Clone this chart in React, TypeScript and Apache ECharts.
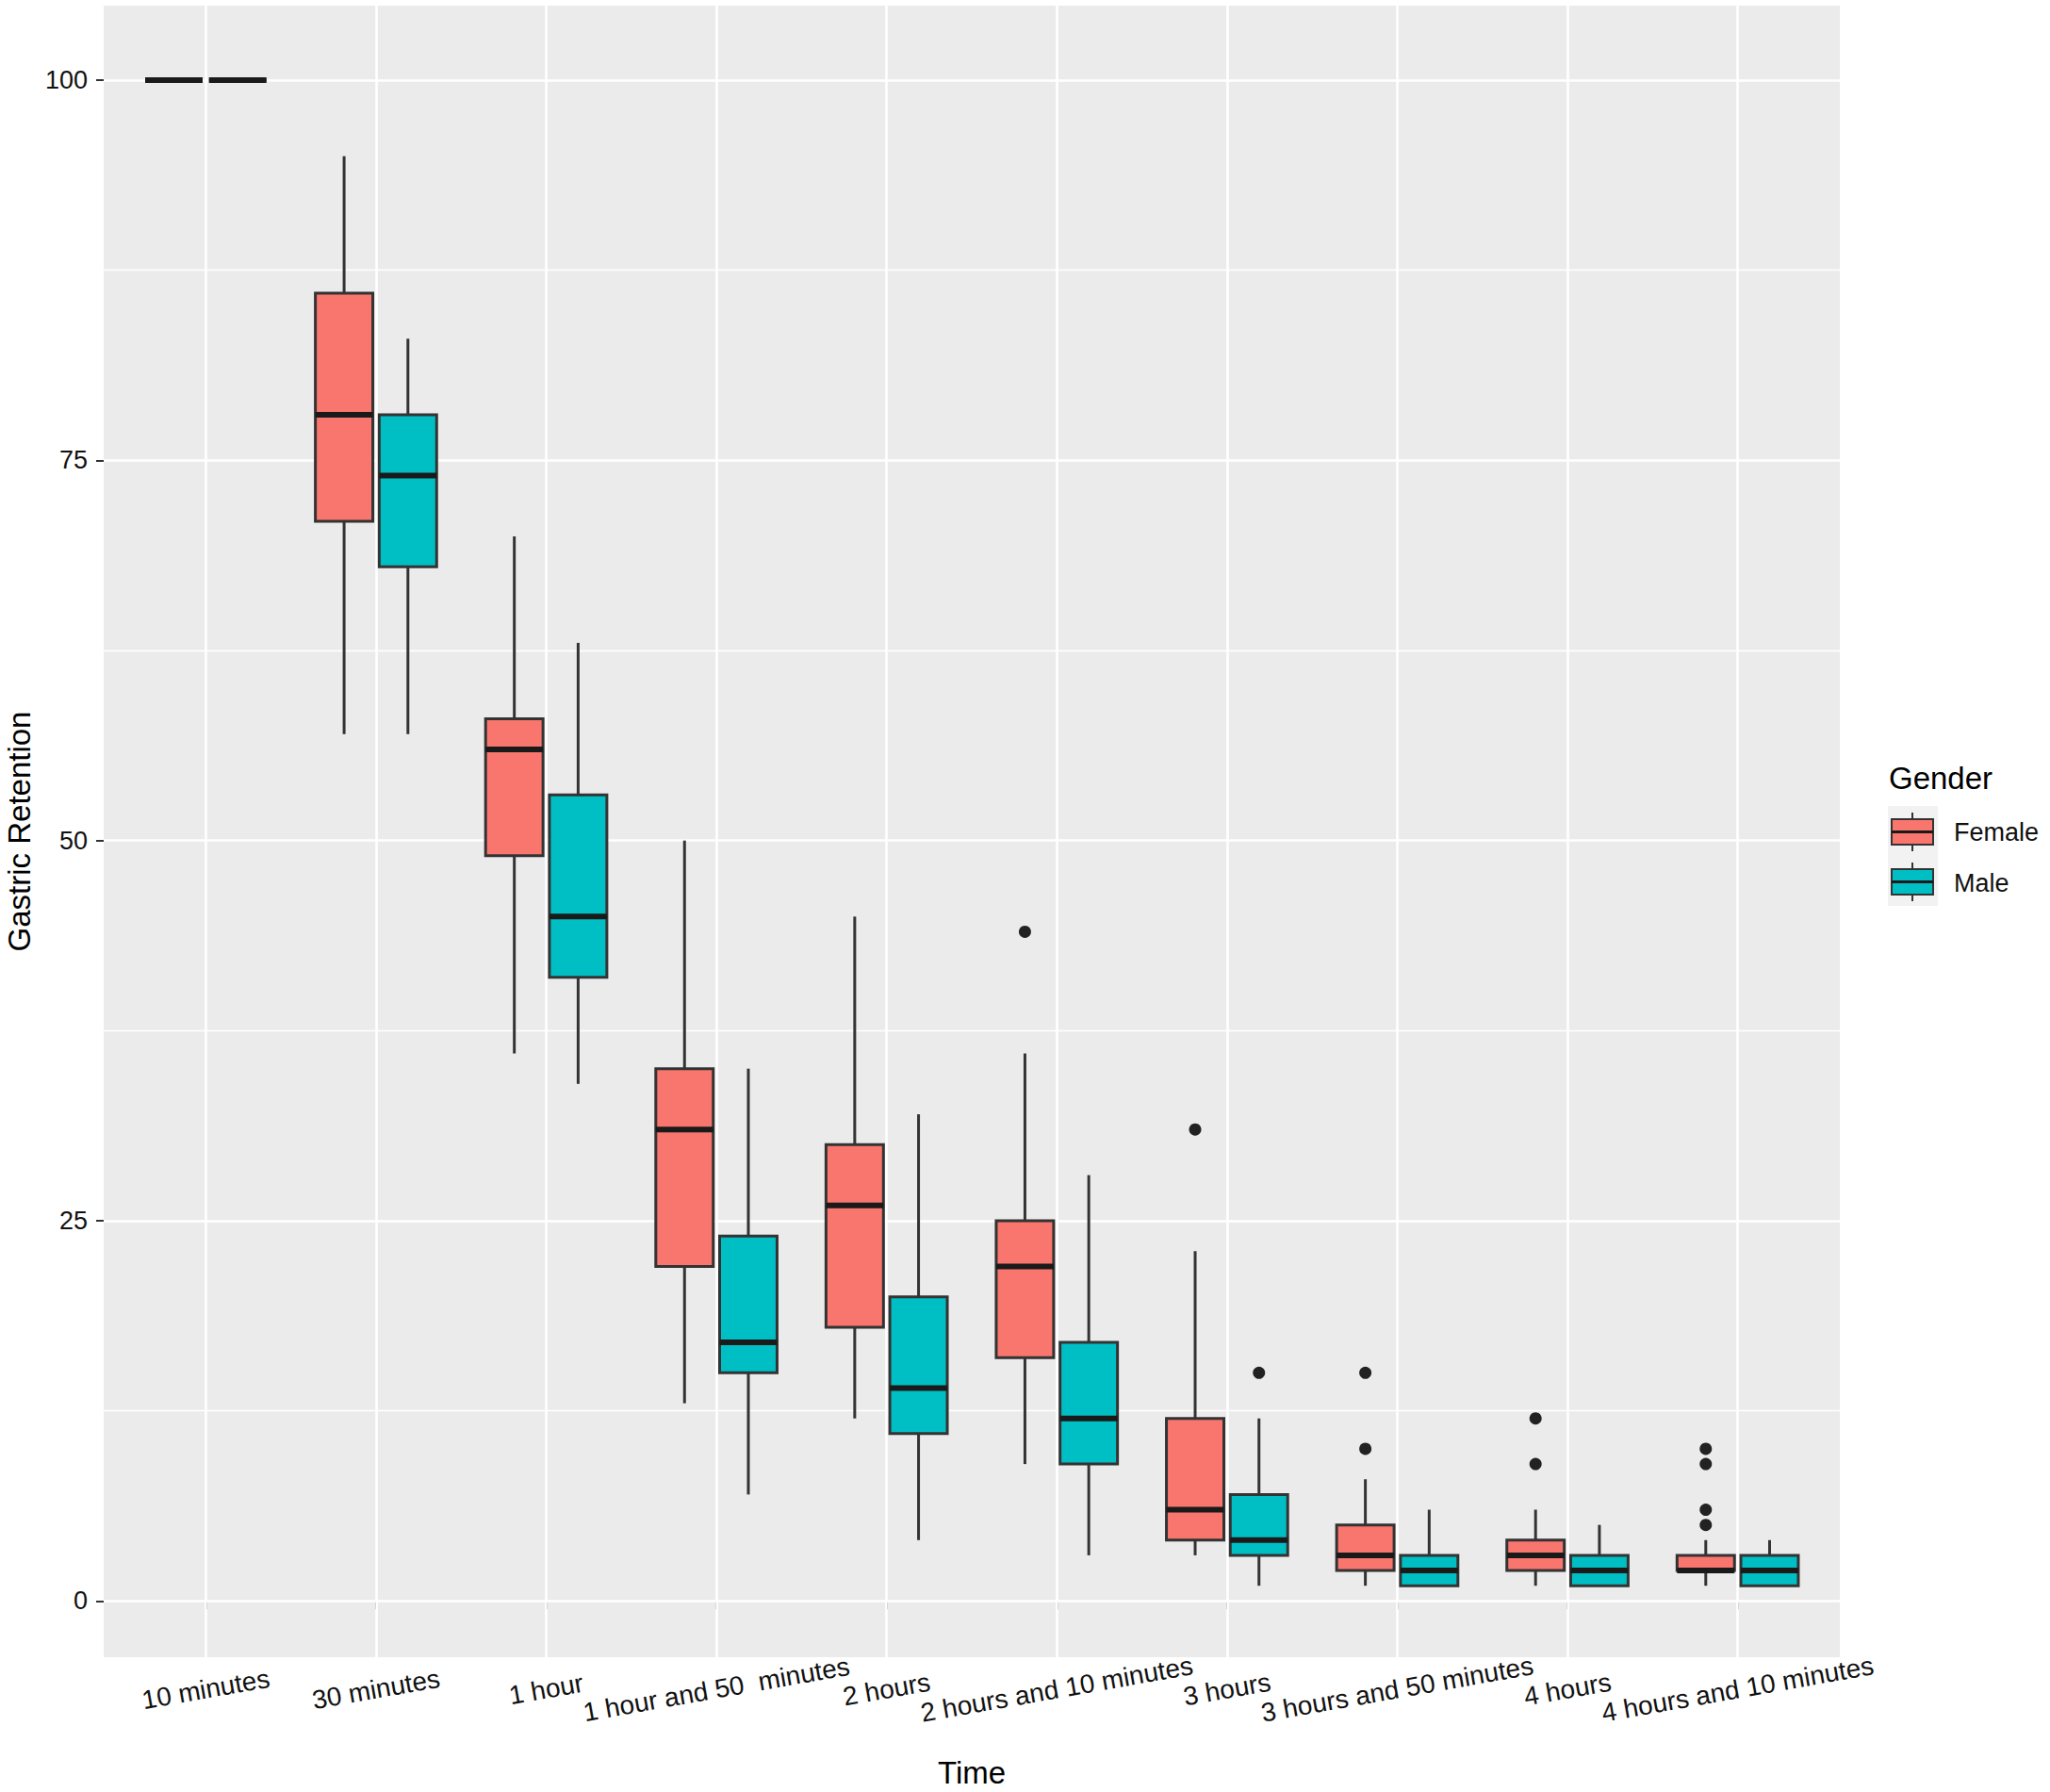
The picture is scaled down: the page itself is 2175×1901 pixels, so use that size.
import { useEffect, useRef } from "react";
import * as echarts from "echarts";

const FONT = "'Liberation Sans', Arial, sans-serif";
const FEMALE_COLOR = "#F8766D";
const MALE_COLOR = "#00BFC4";
const EDGE = "#333333";

const CATEGORIES = [
  "10 minutes",
  "30 minutes",
  "1 hour",
  "1 hour and 50  minutes",
  "2 hours",
  "2 hours and 10 minutes",
  "3 hours",
  "3 hours and 50 minutes",
  "4 hours",
  "4 hours and 10 minutes",
];
const CAT_POS = CATEGORIES.map((_, i) => i + 1);

// [time index, lower whisker, Q1, median, Q3, upper whisker]
const FEMALE_BOXES = [
  [1, 100, 100, 100, 100, 100],
  [2, 57, 71, 78, 86, 95],
  [3, 36, 49, 56, 58, 70],
  [4, 13, 22, 31, 35, 50],
  [5, 12, 18, 26, 30, 45],
  [6, 9, 16, 22, 25, 36],
  [7, 3, 4, 6, 12, 23],
  [8, 1, 2, 3, 5, 8],
  [9, 1, 2, 3, 4, 6],
  [10, 1, 2, 2, 3, 4],
];
const MALE_BOXES = [
  [1, 100, 100, 100, 100, 100],
  [2, 57, 68, 74, 78, 83],
  [3, 34, 41, 45, 53, 63],
  [4, 7, 15, 17, 24, 35],
  [5, 4, 11, 14, 20, 32],
  [6, 3, 9, 12, 17, 28],
  [7, 1, 3, 4, 7, 12],
  [8, 1, 1, 2, 3, 6],
  [9, 1, 1, 2, 3, 5],
  [10, 1, 1, 2, 3, 4],
];
// [time index, value]
const FEMALE_OUTLIERS = [
  [6, 44], [7, 31], [8, 15], [8, 10], [9, 12], [9, 9],
  [10, 10], [10, 9], [10, 6], [10, 5],
];
const MALE_OUTLIERS = [[7, 15]];

const Y_TICKS = [0, 25, 50, 75, 100];
const Y_MINOR = [12.5, 37.5, 62.5, 87.5];

// ggplot dodge: pair width 0.75, each box 0.375 * 0.9
const DODGE = 0.1875;
const BOX_W = 0.3375;

const renderBox = (offset: number, fill: string) => (_params: any, api: any) => {
  const x = api.value(0) + offset;
  const cx = api.coord([x, 0])[0];
  const y = (i: number) => api.coord([x, api.value(i)])[1];
  const [lo, q1, med, q3, hi] = [y(1), y(2), y(3), y(4), y(5)];
  const w = api.size([BOX_W, 0])[0];
  const line = { stroke: EDGE, lineWidth: 3 };
  return {
    type: "group",
    children: [
      { type: "line", shape: { x1: cx, y1: hi, x2: cx, y2: q3 }, style: line },
      { type: "line", shape: { x1: cx, y1: q1, x2: cx, y2: lo }, style: line },
      {
        type: "rect",
        shape: { x: cx - w / 2, y: q3, width: w, height: q1 - q3 },
        style: { fill, stroke: EDGE, lineWidth: 3 },
      },
      {
        type: "line",
        shape: { x1: cx - w / 2, y1: med, x2: cx + w / 2, y2: med },
        style: { stroke: "#1a1a1a", lineWidth: 6 },
      },
    ],
  };
};

function legendKey(y: number, fill: string) {
  // glyph inside a 53px key cell starting at y
  return [
    { type: "line", shape: { x1: 2029, y1: y + 7, x2: 2029, y2: y + 48 }, style: { stroke: EDGE, lineWidth: 2 } },
    { type: "rect", shape: { x: 2007, y: y + 14, width: 44, height: 27 }, style: { fill, stroke: EDGE, lineWidth: 2 } },
    { type: "line", shape: { x1: 2007, y1: y + 27.5, x2: 2051, y2: y + 27.5 }, style: { stroke: "#1a1a1a", lineWidth: 3 } },
  ];
}

export default function App() {
  const ref = useRef<HTMLDivElement>(null);

  useEffect(() => {
    document.body.style.margin = "0";
    if (!ref.current) return;
    const chart = echarts.init(ref.current, null, { renderer: "svg" });

    const labelStyle = { fontSize: 27, color: "#111", fontFamily: FONT };
    const titleStyle = { fontSize: 33, color: "#000", fontFamily: FONT, verticalAlign: "middle" };
    const tickStyle = { color: EDGE, width: 2 };

    chart.setOption({
      animation: false,
      backgroundColor: "#ffffff",
      textStyle: { fontFamily: FONT },
      grid: {
        left: 110,
        top: 6,
        width: 1842,
        height: 1752,
        show: true,
        backgroundColor: "#EBEBEB",
        borderWidth: 0,
        containLabel: false,
        outerBoundsMode: "none",
      },
      xAxis: {
        type: "value",
        min: 0.4,
        max: 10.6,
        name: "Time",
        nameLocation: "middle",
        nameGap: 122,
        nameTextStyle: titleStyle,
        axisLine: { show: false },
        axisTick: { show: true, length: 9, customValues: CAT_POS, lineStyle: tickStyle },
        axisLabel: {
          ...labelStyle,
          fontSize: 28,
          customValues: CAT_POS,
          formatter: (v: number) => CATEGORIES[Math.round(v) - 1] ?? "",
          rotate: 10,
          align: "center",
          verticalAlign: "middle",
          margin: 34,
        },
        splitLine: { show: false },
      },
      yAxis: {
        type: "value",
        min: -3.7,
        max: 104.9,
        name: "Gastric Retention",
        nameLocation: "middle",
        nameGap: 89,
        nameTextStyle: titleStyle,
        axisLine: { show: false },
        axisTick: { show: true, length: 8, customValues: Y_TICKS, lineStyle: tickStyle },
        axisLabel: { ...labelStyle, customValues: Y_TICKS, margin: 17 },
        splitLine: { show: false },
      },
      series: [
        {
          type: "line",
          data: [],
          silent: true,
          z: 1,
          markLine: {
            silent: true,
            symbol: "none",
            z: 1,
            label: { show: false },
            lineStyle: { color: "#ffffff", type: "solid", width: 2.6 },
            data: [
              ...Y_TICKS.map((v) => ({ yAxis: v })),
              ...Y_MINOR.map((v) => ({ yAxis: v, lineStyle: { color: "#ffffff", type: "solid", width: 1.4 } })),
              ...CAT_POS.map((c) => ({ xAxis: c })),
            ],
          },
        },
        {
          type: "custom",
          name: "Female",
          data: FEMALE_BOXES,
          encode: { x: 0, y: [1, 2, 3, 4, 5] },
          renderItem: renderBox(-DODGE, FEMALE_COLOR),
          silent: true,
          z: 2,
        },
        {
          type: "custom",
          name: "Male",
          data: MALE_BOXES,
          encode: { x: 0, y: [1, 2, 3, 4, 5] },
          renderItem: renderBox(DODGE, MALE_COLOR),
          silent: true,
          z: 2,
        },
        {
          type: "scatter",
          data: FEMALE_OUTLIERS.map(([c, v]) => [c - DODGE, v]),
          symbolSize: 13,
          itemStyle: { color: "#222222", opacity: 1 },
          silent: true,
          z: 3,
        },
        {
          type: "scatter",
          data: MALE_OUTLIERS.map(([c, v]) => [c + DODGE, v]),
          symbolSize: 13,
          itemStyle: { color: "#222222", opacity: 1 },
          silent: true,
          z: 3,
        },
      ],
      graphic: [
        {
          type: "text",
          x: 2004,
          y: 825,
          style: { text: "Gender", fontSize: 33, fontFamily: FONT, fill: "#000", verticalAlign: "middle" },
        },
        { type: "rect", shape: { x: 2003, y: 855, width: 53, height: 106 }, style: { fill: "#F2F2F2" } },
        ...legendKey(855, FEMALE_COLOR),
        ...legendKey(908, MALE_COLOR),
        {
          type: "text",
          x: 2073,
          y: 883,
          style: { text: "Female", fontSize: 27, fontFamily: FONT, fill: "#111", verticalAlign: "middle" },
        },
        {
          type: "text",
          x: 2073,
          y: 937,
          style: { text: "Male", fontSize: 27, fontFamily: FONT, fill: "#111", verticalAlign: "middle" },
        },
      ],
    });

    return () => chart.dispose();
  }, []);

  return <div ref={ref} style={{ position: "absolute", left: 0, top: 0, width: 2175, height: 1901 }} />;
}
